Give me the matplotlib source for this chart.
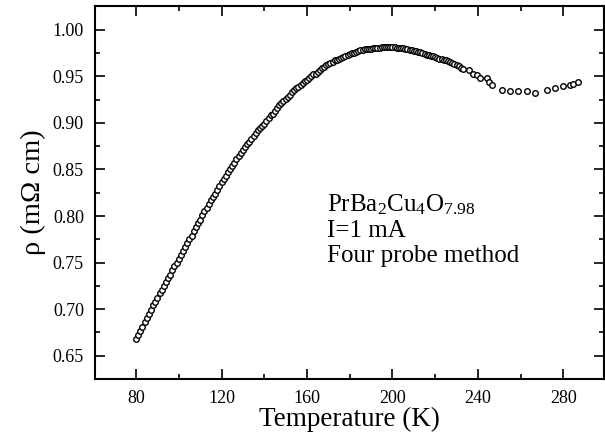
import matplotlib
matplotlib.use("Agg")
import matplotlib.pyplot as plt
from matplotlib.ticker import MultipleLocator

plt.rcParams['font.family'] = ['Liberation Serif', 'DejaVu Serif']
plt.rcParams['mathtext.fontset'] = 'custom'
plt.rcParams['mathtext.rm'] = 'Liberation Serif'
plt.rcParams['mathtext.it'] = 'Liberation Serif:italic'

# resistivity vs temperature, PrBa2Cu4O7.98 (1 K steps, 80-232 K)
temp_main = list(range(80, 233))
rho_main = [0.668, 0.672, 0.677, 0.681, 0.686, 0.690, 0.695, 0.699, 0.704, 0.708,
            0.712, 0.717, 0.721, 0.725, 0.729, 0.733, 0.737, 0.742, 0.746, 0.750,
            0.754, 0.758, 0.762, 0.767, 0.771, 0.775, 0.779, 0.784, 0.788, 0.792,
            0.796, 0.801, 0.805, 0.809, 0.813, 0.817, 0.820, 0.824, 0.828, 0.832,
            0.836, 0.840, 0.843, 0.847, 0.850, 0.854, 0.857, 0.861, 0.864, 0.868,
            0.871, 0.874, 0.877, 0.880, 0.883, 0.886, 0.889, 0.892, 0.894, 0.897,
            0.899, 0.902, 0.905, 0.908, 0.910, 0.913, 0.916, 0.919, 0.921, 0.924,
            0.926, 0.928, 0.930, 0.933, 0.935, 0.937, 0.939, 0.941, 0.943, 0.945,
            0.946, 0.948, 0.950, 0.952, 0.953, 0.955, 0.957, 0.959, 0.960, 0.962,
            0.963, 0.964, 0.965, 0.967, 0.968, 0.969, 0.970, 0.971, 0.972, 0.973,
            0.974, 0.975, 0.975, 0.976, 0.977, 0.978, 0.978, 0.979, 0.979, 0.979,
            0.979, 0.980, 0.980, 0.980, 0.980, 0.981, 0.981, 0.981, 0.981, 0.981,
            0.981, 0.981, 0.980, 0.980, 0.980, 0.980, 0.979, 0.979, 0.978, 0.978,
            0.977, 0.977, 0.976, 0.976, 0.975, 0.974, 0.973, 0.973, 0.972, 0.972,
            0.971, 0.970, 0.969, 0.969, 0.968, 0.967, 0.966, 0.965, 0.964, 0.963,
            0.962, 0.961, 0.959]

# sparser points above ~233 K
temp_tail = [233.2, 235.6, 237.9, 239.5, 241.0, 244.2, 245.0, 246.5,
             251.2, 255.0, 258.9, 262.8, 266.7, 272.2, 276.0, 280.0,
             283.1, 284.6, 287.0]
rho_tail = [0.9575, 0.957, 0.953, 0.951, 0.948, 0.948, 0.944, 0.941,
            0.935, 0.934, 0.934, 0.934, 0.932, 0.935, 0.937, 0.940,
            0.941, 0.942, 0.944]

fig = plt.figure(figsize=(6.05, 4.45), dpi=100)
ax = fig.add_axes([95 / 605, 66 / 445, 509 / 605, 373 / 445])

ax.plot(temp_main + temp_tail, rho_main + rho_tail, linestyle='none',
        marker='o', markersize=4, markerfacecolor='white',
        markeredgecolor='black', markeredgewidth=1.0)

ax.set_xlim(60.8, 299)
ax.set_ylim(0.625, 1.0255)
ax.xaxis.set_major_locator(MultipleLocator(40))
ax.xaxis.set_minor_locator(MultipleLocator(20))
ax.yaxis.set_major_locator(MultipleLocator(0.05))
ax.yaxis.set_minor_locator(MultipleLocator(0.025))
ax.yaxis.set_major_formatter(plt.FuncFormatter(lambda v, p: f'{v:.2f}'))

ax.tick_params(which='both', direction='in', top=True, right=True,
               width=1.2, labelsize=13, colors='black')
ax.tick_params(which='major', length=7, pad=8)
ax.tick_params(which='minor', length=3.5)
for s in ax.spines.values():
    s.set_linewidth(1.5)

ax.set_xlabel('Temperature (K)', fontsize=19.5, labelpad=0)
ax.set_ylabel('ρ (mΩ cm)', fontsize=20.5, labelpad=5)

ax.text(0.455, 0.449, 'PrBa$_2$Cu$_4$O$_{7.98}$', transform=ax.transAxes,
        fontsize=18)
ax.text(0.455, 0.381, 'I=1 mA', transform=ax.transAxes, fontsize=18)
ax.text(0.455, 0.314, 'Four probe method', transform=ax.transAxes,
        fontsize=18)

fig.savefig('out.png', dpi=100)
